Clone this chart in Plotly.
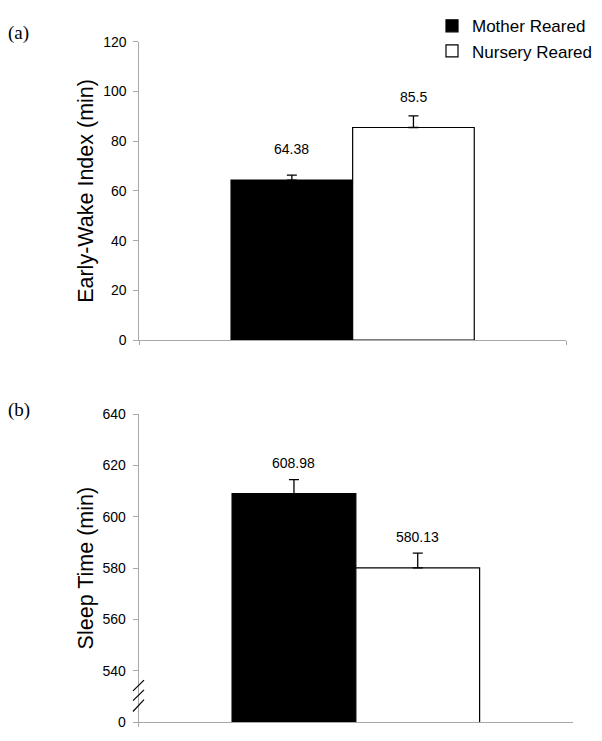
import plotly.graph_objects as go

# page is drawn with the default 8px body margin, so size the figure to fit
PAGE_OFF = 8
W, H = 602 - PAGE_OFF, 741 - PAGE_OFF

# ---- data ----
groups = ["Mother Reared", "Nursery Reared"]
group_colors = ["black", "white"]
category = ["Rearing"]

wake_means = [64.38, 85.5]
wake_errs = [2.0, 4.7]

sleep_means = [608.98, 580.13]
sleep_errs = [5.5, 5.7]

wake_ticks = [0, 20, 40, 60, 80, 100, 120]
sleep_tickvals = [520, 540, 560, 580, 600, 620, 640]
sleep_ticktext = ["0", "540", "560", "580", "600", "620", "640"]

BARGAP = 0.43
AXIS_GREY = "#a8a8a8"
FONT = "Liberation Sans, Arial, sans-serif"
SERIF = "Liberation Serif, Times New Roman, serif"


def px_x(p):
    # page pixel -> paper fraction
    return (p - PAGE_OFF) / W


def px_y(p):
    return 1 - (p - PAGE_OFF) / H


fig = go.Figure()

for i, (name, color) in enumerate(zip(groups, group_colors)):
    fig.add_trace(go.Bar(
        x=category, y=[wake_means[i]], name=name,
        marker=dict(color=color, line=dict(color="black", width=1.2)),
        error_y=dict(type="data", array=[wake_errs[i]], arrayminus=[0],
                     symmetric=False, color="black", thickness=1.3, width=5),
        legendgroup=name, xaxis="x", yaxis="y",
    ))
    fig.add_trace(go.Bar(
        x=category, y=[sleep_means[i]], name=name,
        marker=dict(color=color, line=dict(color="black", width=1.2)),
        error_y=dict(type="data", array=[sleep_errs[i]], arrayminus=[0],
                     symmetric=False, color="black", thickness=1.3, width=5),
        legendgroup=name, showlegend=False, xaxis="x2", yaxis="y2",
    ))

# value labels above each bar
offset = (1 - BARGAP) / 4
annotations = []
for means, xref, yref in [(wake_means, "x", "y"), (sleep_means, "x2", "y2")]:
    for i, v in enumerate(means):
        annotations.append(dict(
            x=(-offset if i == 0 else offset), y=v, xref=xref, yref=yref,
            text=str(v), showarrow=False, yshift=31, yanchor="middle",
            font=dict(size=14, color="black", family=FONT),
        ))

# panel letters
for label, ypos in [("(a)", 23), ("(b)", 410)]:
    annotations.append(dict(x=px_x(6), y=px_y(ypos), xref="paper", yref="paper",
                            text=label, showarrow=False,
                            xanchor="left", yanchor="middle",
                            font=dict(size=19, color="black", family=SERIF)))

# axis break marks on panel (b)
shapes = []
for y0, y1 in [(532.2, 536.4), (528.4, 532.6), (524.2, 528.8)]:
    shapes.append(dict(type="line", xref="paper", yref="y2",
                       x0=px_x(133), x1=px_x(144), y0=y0, y1=y1,
                       line=dict(color="black", width=1.2)))

xaxis_common = dict(
    showline=True, linecolor=AXIS_GREY, linewidth=1,
    ticks="outside", tickson="boundaries", ticklen=4, tickcolor=AXIS_GREY,
    showticklabels=False, showgrid=False, zeroline=False, fixedrange=True,
)
yaxis_common = dict(
    showline=True, linecolor=AXIS_GREY, linewidth=1,
    ticks="outside", ticklen=5, tickcolor=AXIS_GREY,
    tickfont=dict(size=14, color="black", family=FONT),
    showgrid=False, zeroline=False, ticklabelstandoff=4,
)
title_font = dict(size=21.5, family=FONT, color="black")

fig.update_layout(
    width=W, height=H, autosize=False,
    margin=dict(l=0, r=0, t=0, b=0),
    paper_bgcolor="white", plot_bgcolor="white",
    barmode="group", bargap=BARGAP, bargroupgap=0,
    font=dict(family=FONT, color="black"),
    xaxis=dict(domain=[px_x(139.3), px_x(566)], anchor="y", **xaxis_common),
    xaxis2=dict(domain=[px_x(138.7), px_x(573)], anchor="y2", **xaxis_common),
    yaxis=dict(domain=[px_y(338.3), px_y(32.3)], anchor="x", range=[0, 120],
               tickvals=wake_ticks,
               title=dict(text="Early-Wake Index (min)", standoff=3, font=title_font),
               **yaxis_common),
    yaxis2=dict(domain=[px_y(730), px_y(414)], anchor="x2", range=[520, 640],
                tickvals=sleep_tickvals, ticktext=sleep_ticktext,
                title=dict(text="Sleep Time (min)", standoff=3, font=title_font),
                **yaxis_common),
    legend=dict(x=px_x(432), y=px_y(-2), xanchor="left", yanchor="top",
                font=dict(size=17, family=FONT, color="black"),
                bgcolor="rgba(0,0,0,0)", tracegroupgap=0),
    annotations=annotations,
    shapes=shapes,
    showlegend=True,
)

fig.write_html("out.html")
